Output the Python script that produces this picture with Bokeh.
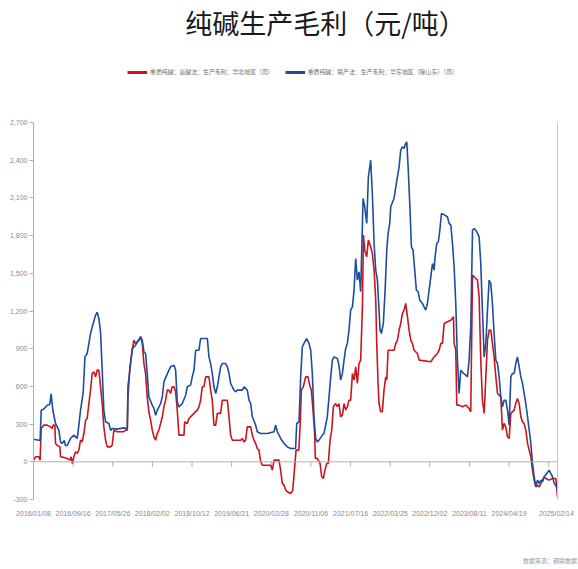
import numpy as np
import pandas as pd
from bokeh.plotting import figure
from bokeh.layouts import column
from bokeh.models import (Range1d, FixedTicker, DatetimeTickFormatter, NumeralTickFormatter,
                          Span, Legend, LegendItem, Label, LinearAxis, Div)
from bokeh.embed import file_html
from bokeh.resources import INLINE

# ---------------- data ----------------
title_text = "纯碱生产毛利（元/吨）"
red_name = "重质纯碱：氨碱法：生产毛利：华北地区（周）"
blue_name = "重质纯碱：联产法：生产毛利：华东地区（除山东）（周）"
source_text = "数据来源：钢联数据"

start_date = "2016-01-08"
end_date = "2025-02-21"

x_tick_labels = ["2016/01/08", "2016/09/16", "2017/05/26", "2018/02/02", "2018/10/12",
                 "2019/06/21", "2020/02/28", "2020/11/06", "2021/07/16", "2022/03/25",
                 "2022/12/02", "2023/08/11", "2024/04/19", "2025/02/14"]
zero_tick_weeks = [36, 72, 108, 144, 180, 216, 252, 288, 324, 360, 396, 432, 468]
y_ticks = [-300, 0, 300, 600, 900, 1200, 1500, 1800, 2100, 2400, 2700]

# weeks since 2016-01-08, value (yuan/ton)
red_week = [0, 2, 5, 6, 7, 9.4, 12.4, 15.5, 17, 17.9, 19.4, 20, 21.5, 24, 24.5, 27.6, 30.6, 33, 34.2,
            35.2, 36.7, 38.2, 39.7, 41.2, 42.7, 44.2, 45.8, 47.3, 48.8, 50.3, 51.8, 53.3, 54.8, 56.4,
            57.9, 59.4, 60.9, 62.4, 63.9, 65.5, 67, 70, 71.5, 73, 76, 82, 83.6, 85.2, 85.8, 87.6, 89.7,
            91.2, 92.7, 95.8, 97.3, 98.8, 100.3, 101.8, 103.3, 104.8, 106.4, 107.9, 109.4, 110.9, 112.4,
            113.9, 115.5, 117, 118.5, 120, 121.5, 123, 124.5, 126, 127.6, 129.1, 130.6, 132.1, 136.7,
            137.3, 139.7, 141.2, 144.2, 145.8, 148.8, 150.3, 151.8, 153.3, 154.8, 156.4, 159.4, 160.9,
            162.4, 163.9, 165.5, 167, 170, 171.5, 176.1, 177.6, 179.1, 180.6, 188.2, 189.7, 191.2, 192.7,
            194.2, 197.3, 198.8, 200.3, 201.8, 203.3, 204.8, 206.4, 207.9, 215.5, 217, 218.5, 223, 224.5,
            226, 227.6, 229.1, 230.6,
            233.6, 235.5, 237, 238.5, 241, 242.3, 243.3, 245.1, 247.2, 249.4, 250.9, 252.4, 253.9, 255.4,
            256, 257.8, 260.3, 261.8, 263.3, 264.8, 266.3, 267.8, 269.4, 270.9, 272.4, 274.5, 276, 277.5,
            279, 280.6, 282.1, 283.6, 285.1, 286.6, 288.1, 289.7, 291.2, 292.7, 294.2, 295.7, 297.2,
            298.8, 299.7, 300.9, 302.7, 304.2, 306.3, 307.8, 309.4, 310.9, 311.8, 313, 313.9, 315.4,
            316.9, 318.4, 320, 320.9, 322.1, 327.5, 329.1, 330.6, 332.1, 333.6, 335.1, 336.6, 338.1,
            339.7, 341.2, 342.7, 344.2, 345.7, 348.8, 350.3, 360.9, 363.9, 366.9, 368.5, 370, 371.5,
            373, 376, 379.1, 381.5, 382.1, 383.6, 384.5, 386.6, 389.7, 392.7, 395.7, 397.2, 398.8,
            400.3, 401.8, 403.3, 404.8, 406.3, 407.8, 409.4, 410.9, 412.4, 413.9, 415.4, 416.9, 418.4,
            420, 421.5, 423, 424.5, 426, 427.5, 429, 430.6, 432.1, 433.6, 436.6, 438.1, 439.6, 441.2,
            442.7, 444.2, 445.7, 447.2, 448.8, 450.3, 451.8, 453.3, 454.8, 456.3, 457.8, 459.4, 460.9,
            462.4, 463.9, 465.4, 468.4, 471.5, 474.5, 476]
red_value = [13, 40, 40, 13, 265, 292, 292, 278, 265, 292, 292, 146, 132, 119, 40, 35, 27, 13, 40,
             -13, 40, 80, 66, 93, 172, 159, 225, 330, 345, 464, 570, 703, 716, 676,
             730, 730, 597, 464, 278, 172, 119, 119, 132, 252, 239, 239, 252, 252, 517, 756, 888,
             968, 941, 968, 995, 941, 782, 703, 517, 398, 331, 252, 199, 172, 225,
             252, 305, 358, 437, 490, 570, 570, 544, 597, 597, 557, 411, 212, 212,
             318, 305, 345, 371, 385, 411, 437, 490, 597, 597, 676, 676, 570,
             490, 292, 292, 385, 385, 490, 490, 358, 212, 172, 172, 186, 159, 172,
             278, 278, 212, 172, 146, 106, 93, 0, -27, -27, -66, 13, 13, -66,
             -172, -186, -225, -239,
             -252, -225, -66, 93, 93, 305, 570, 597, 676, 676, 610, 570, 411, 225,
             27, 27, -13, -119, -133, -66, -13, -13, 172, 252, 438, 464, 438, 464,
             358, 371, 464, 411, 438, 490, 490, 703, 650, 756, 623, 782, 809,
             1233, 1804, 1684, 1631, 1764, 1711, 1658, 1525, 1286, 942, 623, 464, 398,
             398, 570, 676, 650, 888, 888, 942, 968, 1048, 1101, 1180, 1207, 1260,
             1154, 1048, 968, 942, 888, 862, 809, 796, 835, 862, 888, 942, 942,
             1101, 1114, 1127, 1154, 942, 888, 451, 451, 438, 451, 424, 398, 1485,
             1472, 1459, 1446, 1313, 809, 490, 385, 676, 968, 1048, 1048, 942, 835,
             676, 544, 531, 517, 252, 305, 278, 199, 186, 385, 411, 464, 504, 464,
             358, 318, 305, 252, 146, 93, 40, -66, -146, -199, -186, -199, -172,
             -146, -119, -133, -146, -133, -133, -279]

blue_week = [0, 6, 7, 9.4, 12.4, 14.8, 16, 17.6, 20, 23, 24.5, 26, 28, 29, 30.6, 33.6, 36.7, 39.7,
             41.2, 42.7, 45.2, 46.7, 48.8, 50.3, 51.8, 54.2, 56.4, 57.9, 59.4, 60.9, 62.4, 63.9, 65.5,
             68.5, 70, 71.5, 76, 82, 85.2, 85.8, 88.2, 89.7, 92.7, 97.3, 98.8, 100.3, 101.8, 103.3,
             104.8, 107.9, 109.4, 110.9, 112.4, 115.5, 117, 118.5, 121.5, 124.5, 127.6, 129.1, 130.6,
             132.1, 135.2, 138.2, 139.7, 142.7, 144.2, 145.8, 147.3, 150.3, 151.8, 157.9, 159.4, 160.9,
             162.4, 163.9, 165.5, 167, 170, 171.5, 174.5, 176.1, 177.6, 179.1, 182.1, 183.6, 185.2,
             189.7, 191.2, 194.2, 195.8, 197.3, 198.8, 201.8, 203.3, 206.4, 212.4, 218.5, 220, 221.5,
             224.5, 227.6, 230.6, 233.6, 238.1,
             239.1, 241.2, 242.7, 244.2, 245.7, 248.1, 250.3, 251.8, 253.3, 254.8, 256.3, 257.8, 259.4,
             262.4, 263.9, 266.9, 270, 271.5, 273, 276, 277.5, 279, 280.6, 282.1, 283.6, 285.1, 286.6,
             288.1, 289.7, 291.2, 292.7, 294.2, 295.7, 297.2, 299.4, 300.9, 302.7, 304.2, 306.3, 307.8,
             309.4, 310.9, 312.4, 313.9, 314.8, 316, 317.8, 319.4, 320.9, 322.1, 323.6, 324.5, 327.5,
             329.1, 330.6, 332.1, 333.6, 335.1, 336.6, 338.1, 339.1, 340.3, 341.8, 343.3, 344.8, 346.3,
             347.8, 349.4, 350.9, 353.3, 354.8, 356.3, 357.8, 359.4, 360.9, 362.4, 363.9, 364.8, 366.3,
             367.8, 369.1, 370.6, 373.6, 376, 377.5, 379.1, 380.6, 382.1, 383.6, 385.1, 386.6, 388.1,
             390.6, 392.7, 394.2, 395.7, 397.2, 398.8, 400.3, 402.7, 404.8, 406.3, 407.8, 409.4, 410.9,
             412.4, 413.9, 415.4, 416.9, 418.4, 420, 421.5, 423, 424.5, 426, 427.5, 429, 430.6, 432.1,
             433.6, 435.1, 436.6, 438.1, 439.6, 441.2, 442.7, 444.2, 445.7, 447.2, 448.8, 450.3, 451.8,
             453.3, 454.8, 456.3, 457.8, 459.4, 460.9, 462.4, 463.9, 466.3, 468.4, 469.9, 471.5, 473,
             474.5, 476]
blue_value = [180, 170, 410, 420, 450, 456, 540, 410, 305, 252, 160, 145, 170, 130, 130, 185, 212, 185,
              290, 410, 557, 835, 862, 940, 1020, 1100, 1167, 1190, 1140, 1034, 730, 410, 318,
              305, 250, 265, 260, 270, 265, 600, 780, 900, 928, 995, 968, 875, 862, 700,
              517, 450, 425, 370, 410, 464, 517, 636, 700, 756, 769, 730, 477,
              437, 464, 530, 597, 610, 676, 730, 888, 888, 981, 981, 835, 782,
              703, 597, 544, 597, 756, 782, 782, 756, 703, 623, 570, 557, 570,
              570, 597, 570, 490, 464, 358, 292, 239, 225, 225, 239, 292, 239,
              186, 146, 119, 106, 106,
              305, 318, 676, 915, 942, 981, 942, 888, 703, 358, 186, 159, 172,
              212, 225, 358, 676, 809, 835, 822, 769, 650, 703, 809, 902, 942, 1048,
              1207, 1233, 1366, 1618, 1446, 1512, 1353, 2095, 2029, 1897, 2268, 2400, 2135,
              1737, 1525, 1446, 1207, 1048, 1021, 1101, 1366, 1684, 1817, 1897, 2029, 2095,
              2188, 2268, 2347, 2480, 2507, 2493, 2533, 2546, 2347, 2056, 1711, 1684, 1525,
              1366, 1353, 1286, 1260, 1233, 1207, 1260, 1366, 1472, 1578, 1525, 1631, 1737,
              1751, 1843, 1976, 1963, 1950, 1897, 1883, 1737, 1552, 1260, 809, 544, 729,
              703, 690, 676, 809, 1074, 1843, 1857, 1830, 1790, 1578, 1207, 835, 942,
              1207, 1446, 1419, 1260, 1021, 809, 782, 676, 517, 438, 490, 490, 411, 292,
              676, 703, 703, 782, 835, 756, 676, 623, 544, 464, 358, 252, 146,
              -13, -119, -199, -146, -172, -146, -159, -119, -93, -66, -93, -119, -172,
              -186, -225]

# ---------------- style ----------------
RED = "#c9151e"
BLUE = "#1d4e9b"
AXIS_GRAY = "#b0b0b0"
LABEL_GRAY = "#8a8a8a"
TICK_FONT = "Liberation Sans"
CJK_FONT = "Noto Sans CJK SC"

W, H = 578, 569
FOOT_H = 17                                   # strip under the chart for the source note
MAIN_H = H - FOOT_H
FRAME_LEFT, FRAME_RIGHT = 33, 557
AXIS_TOP_PX, FRAME_BOTTOM = 122, 499          # pixel rows of 2700 and -300
units_per_px = (y_ticks[-1] - y_ticks[0]) / (FRAME_BOTTOM - AXIS_TOP_PX)
y_view_end = y_ticks[-1] + AXIS_TOP_PX * units_per_px   # frame reaches the top of the canvas


def to_dates(weeks):
    return pd.Timestamp(start_date) + pd.to_timedelta(np.asarray(weeks, dtype=float) * 7, unit="D")


def to_ms(ts):
    return pd.Timestamp(ts).timestamp() * 1000.0


p = figure(width=W, height=MAIN_H, x_axis_type="datetime",
           x_range=Range1d(pd.Timestamp(start_date), pd.Timestamp(end_date)),
           y_range=Range1d(y_ticks[0], y_view_end),
           output_backend="svg", toolbar_location=None,
           min_border_left=FRAME_LEFT, min_border_right=W - FRAME_RIGHT,
           min_border_top=0, min_border_bottom=MAIN_H - FRAME_BOTTOM)
p.outline_line_color = None
p.xgrid.grid_line_color = None
p.ygrid.grid_line_color = None
p.background_fill_color = "white"
p.border_fill_color = "white"

# y axis
yax = p.yaxis[0]
yax.ticker = FixedTicker(ticks=y_ticks)
yax.bounds = (y_ticks[0], y_ticks[-1])
yax.formatter = NumeralTickFormatter(format="0,0")
yax.axis_line_color = AXIS_GRAY
yax.major_tick_line_color = AXIS_GRAY
yax.major_tick_out = 4
yax.major_tick_in = 0
yax.minor_tick_line_color = None
yax.major_label_text_font = TICK_FONT
yax.major_label_text_font_size = "7px"
yax.major_label_text_color = LABEL_GRAY
yax.major_label_standoff = 2

# x axis (labels only)
xax = p.xaxis[0]
xax.ticker = FixedTicker(ticks=[to_ms(pd.to_datetime(s, format="%Y/%m/%d")) for s in x_tick_labels])
fmt = "%Y/%m/%d"
xax.formatter = DatetimeTickFormatter(microseconds=fmt, milliseconds=fmt, seconds=fmt, minsec=fmt,
                                      minutes=fmt, hourmin=fmt, hours=fmt, days=fmt, months=fmt, years=fmt)
xax.axis_line_color = None
xax.major_tick_line_color = None
xax.major_tick_out = 0
xax.major_tick_in = 0
xax.minor_tick_line_color = None
xax.major_label_text_font = TICK_FONT
xax.major_label_text_font_size = "7px"
xax.major_label_text_color = LABEL_GRAY
xax.major_label_standoff = 10

# right border line
rax = LinearAxis(ticker=FixedTicker(ticks=[]), axis_line_color="#c8c8c8",
                 major_tick_line_color=None, minor_tick_line_color=None,
                 bounds=(y_ticks[0], y_ticks[-1]))
p.add_layout(rax, "right")

# zero line with tick marks
p.add_layout(Span(location=0, dimension="width", line_color=AXIS_GRAY, line_width=1))
tick_len = 5 * units_per_px
tick_x = to_dates(zero_tick_weeks)
p.segment(x0=tick_x, y0=[0] * len(zero_tick_weeks), x1=tick_x, y1=[-tick_len] * len(zero_tick_weeks),
          line_color=AXIS_GRAY, line_width=1)

# series
r_red = p.line(to_dates(red_week), red_value, line_color=RED, line_width=1.6)
r_blue = p.line(to_dates(blue_week), blue_value, line_color=BLUE, line_width=1.6)

# legend (thicker sample lines; renderers hold a single non-drawn point)
leg_red = p.line(x=[pd.Timestamp(start_date)], y=[np.nan], line_color=RED, line_width=3)
leg_blue = p.line(x=[pd.Timestamp(start_date)], y=[np.nan], line_color=BLUE, line_width=3)
legend = Legend(items=[LegendItem(label=red_name, renderers=[leg_red], index=0),
                       LegendItem(label=blue_name, renderers=[leg_blue], index=0)],
                location=(127 - FRAME_LEFT, FRAME_BOTTOM - 76), orientation="horizontal",
                glyph_width=20, glyph_height=8, label_standoff=3, spacing=11,
                padding=0, margin=0, border_line_color=None, background_fill_alpha=0,
                label_text_font_size="5.9px", label_text_color="#707070", label_height=8,
                label_text_font=CJK_FONT)
p.add_layout(legend)

# title
p.add_layout(Label(x=325 - FRAME_LEFT, y=FRAME_BOTTOM - 22, x_units="screen", y_units="screen",
                   text=title_text, text_align="center", text_baseline="middle",
                   text_font=CJK_FONT, text_font_size="27px", text_color="#1a1a1a"))

# footer strip with the source note
foot = Div(text=source_text, width=W, height=FOOT_H,
           styles={"font-family": CJK_FONT, "font-size": "6px", "line-height": "8px",
                   "color": "#9a9a9a", "text-align": "right", "padding-right": "6px",
                   "box-sizing": "border-box", "width": f"{W}px", "background": "white"})

layout = column(p, foot, spacing=0)
open("out.html", "w").write(file_html(layout, INLINE))
